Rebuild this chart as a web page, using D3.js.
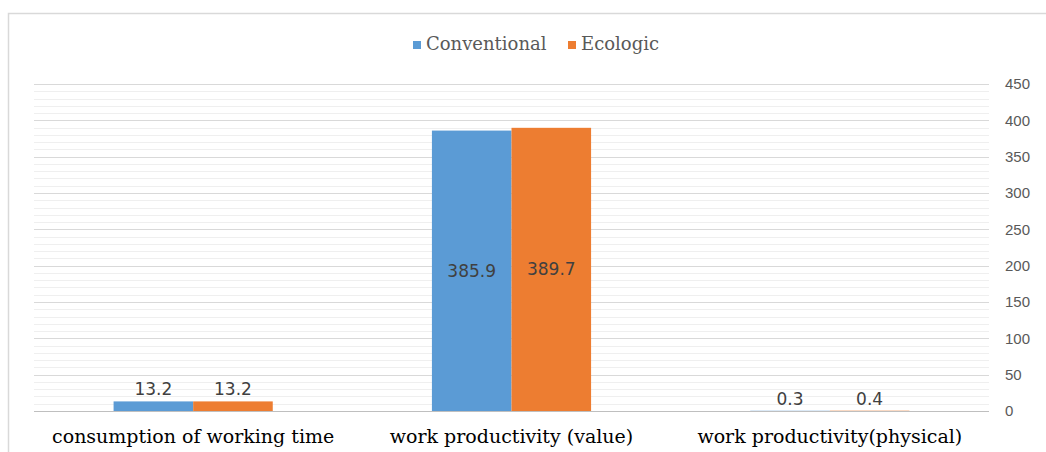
<!DOCTYPE html>
<html>
<head>
<meta charset="utf-8">
<script src="https://cdn.jsdelivr.net/npm/d3@7"></script>
<style>
  body { margin: 0; background: #fff; }
</style>
</head>
<body>
<div id="chart"></div>
<script>
const categories = ['consumption of working time', 'work productivity (value)', 'work productivity(physical)'];
const seriesNames = ['Conventional', 'Ecologic'];
const conventional = [13.2, 385.9, 0.3];
const ecologic = [13.2, 389.7, 0.4];
const tickValues = [0, 50, 100, 150, 200, 250, 300, 350, 400, 450];
const colors = ['#5B9BD5', '#ED7D31'];

const width = 1046, height = 452;
const margin = { top: 84, right: 57, bottom: 41, left: 34 };

const svg = d3.select('#chart').append('svg')
  .attr('width', width)
  .attr('height', height);

// frame
svg.append('rect')
  .attr('x', 8.5).attr('y', 13.5)
  .attr('width', width + 20).attr('height', height)
  .attr('fill', 'none')
  .attr('stroke', '#d9d9d9')
  .attr('stroke-width', 1.5);

const x = d3.scaleBand()
  .domain(categories)
  .range([margin.left, width - margin.right])
  .paddingInner(0.5)
  .paddingOuter(0.25);

const xs = d3.scaleBand()
  .domain(seriesNames)
  .range([0, x.bandwidth()]);

const y = d3.scaleLinear()
  .domain([0, 450])
  .range([height - margin.bottom, margin.top]);

// minor grid
svg.append('g')
  .selectAll('line')
  .data(d3.range(10, 450, 10).filter(v => v % 50 !== 0))
  .enter().append('line')
  .attr('x1', margin.left).attr('x2', width - margin.right)
  .attr('y1', d => Math.round(y(d)) + 0.5).attr('y2', d => Math.round(y(d)) + 0.5)
  .style('stroke', '#efefef');

// major grid
svg.append('g')
  .selectAll('line')
  .data(tickValues.slice(1))
  .enter().append('line')
  .attr('x1', margin.left).attr('x2', width - margin.right)
  .attr('y1', d => Math.round(y(d)) + 0.5).attr('y2', d => Math.round(y(d)) + 0.5)
  .style('stroke', '#d9d9d9');

// right axis
const yAxis = svg.append('g')
  .attr('transform', `translate(${width - margin.right},0)`)
  .call(d3.axisRight(y).tickValues(tickValues).tickSize(0).tickPadding(16));
yAxis.select('.domain').remove();
yAxis.selectAll('text')
  .style('font-family', '"Liberation Sans", sans-serif')
  .style('font-size', '15px')
  .style('fill', '#595959');

const series = [conventional, ecologic];

const groups = svg.append('g')
  .selectAll('g')
  .data(categories)
  .enter().append('g')
  .attr('transform', d => `translate(${x(d)},0)`);

groups.selectAll('rect')
  .data((d, i) => seriesNames.map((s, j) => ({ s, v: series[j][i], j, cat: i })))
  .enter().append('rect')
  .attr('x', d => xs(d.s))
  .attr('width', xs.bandwidth())
  .attr('y', d => y(d.v))
  .attr('height', d => y(0) - y(d.v))
  .style('fill', (d) => colors[d.j]);

groups.selectAll('text')
  .data((d, i) => seriesNames.map((s, j) => ({ s, v: series[j][i], j, cat: i })))
  .enter().append('text')
  .attr('x', d => xs(d.s) + xs.bandwidth() / 2)
  .attr('y', d => d.v > 100 ? (y(d.v) + y(0)) / 2 + 6 : y(d.v) - 6)
  .attr('text-anchor', 'middle')
  .style('font-family', '"DejaVu Sans", sans-serif')
  .style('font-size', '17px')
  .style('fill', '#404040')
  .text(d => d.v);

// baseline
svg.append('line')
  .attr('x1', margin.left).attr('x2', width - margin.right)
  .attr('y1', Math.round(y(0)) + 0.5).attr('y2', Math.round(y(0)) + 0.5)
  .style('stroke', '#bfbfbf');

// category labels
svg.append('g')
  .selectAll('text')
  .data(categories)
  .enter().append('text')
  .attr('x', d => x(d) + x.bandwidth() / 2)
  .attr('y', 443)
  .attr('text-anchor', 'middle')
  .style('font-family', '"DejaVu Serif", serif')
  .style('font-size', '19px')
  .style('fill', '#000')
  .text(d => d);

// legend
const legend = svg.append('g').attr('transform', 'translate(413,50)');
const items = legend.selectAll('g')
  .data(seriesNames)
  .enter().append('g')
  .attr('transform', (d, i) => `translate(${i === 0 ? 0 : 155},0)`);
items.append('rect')
  .attr('x', 0).attr('y', -9)
  .attr('width', 8).attr('height', 8)
  .style('fill', (d, i) => colors[i]);
items.append('text')
  .attr('x', 13).attr('y', 0)
  .style('font-family', '"DejaVu Serif", serif')
  .style('font-size', '18px')
  .style('fill', '#595959')
  .text(d => d);
</script>
</body>
</html>
